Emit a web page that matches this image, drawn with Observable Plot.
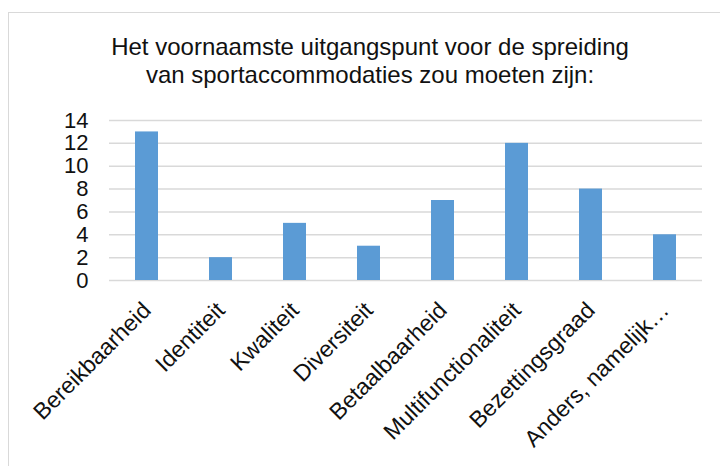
<!DOCTYPE html>
<html>
<head>
<meta charset="utf-8">
<script src="https://cdn.jsdelivr.net/npm/d3@7"></script>
<script src="https://cdn.jsdelivr.net/npm/@observablehq/plot@0.6"></script>
<style>
  html, body { margin: 0; padding: 0; background: #fff; }
  body { width: 720px; height: 466px; overflow: hidden; position: relative; font-family: "Liberation Sans", Arial, sans-serif; }
  #frame { position: absolute; left: 8px; top: 12px; width: 760px; height: 500px; border: 1.5px solid #d9d9d9; box-sizing: border-box; }
  #title { position: absolute; left: 0; top: 33px; width: 740px; text-align: center; font-size: 24px; line-height: 28px; color: #111; }
  #chart { position: absolute; left: 0; top: 0; }
</style>
</head>
<body>
<div id="frame"></div>
<div id="title">Het voornaamste uitgangspunt voor de spreiding<br>van sportaccommodaties zou moeten zijn:</div>
<div id="chart"></div>
<script>
const categories = ["Bereikbaarheid", "Identiteit", "Kwaliteit", "Diversiteit", "Betaalbaarheid", "Multifunctionaliteit", "Bezettingsgraad", "Anders, namelijk…"];
const values = [13, 2, 5, 3, 7, 12, 8, 4];
const yTicks = [0, 2, 4, 6, 8, 10, 12, 14];

const data = categories.map((c, i) => ({category: c, value: values[i]}));

const chart = Plot.plot({
  width: 720,
  height: 466,
  marginTop: 120,
  marginBottom: 186,
  marginLeft: 109,
  marginRight: 18,
  style: {fontFamily: '"Liberation Sans", Arial, sans-serif', background: "transparent", color: "#111"},
  x: {domain: categories, paddingInner: 0.69, paddingOuter: 0.345, label: null},
  y: {domain: [0, 14], label: null},
  marks: [
    Plot.gridY(yTicks, {stroke: "#d9d9d9", strokeOpacity: 1, strokeWidth: 1.5}),
    Plot.barY(data, {x: "category", y: "value", fill: "#5B9BD5"}),
    Plot.axisY(yTicks, {tickSize: 0, tickPadding: 21, fontSize: 22, label: null}),
    Plot.axisX({tickSize: 0, tickPadding: 26, tickRotate: -45, fontSize: 23, label: null})
  ]
});
document.getElementById("chart").appendChild(chart);
</script>
</body>
</html>
